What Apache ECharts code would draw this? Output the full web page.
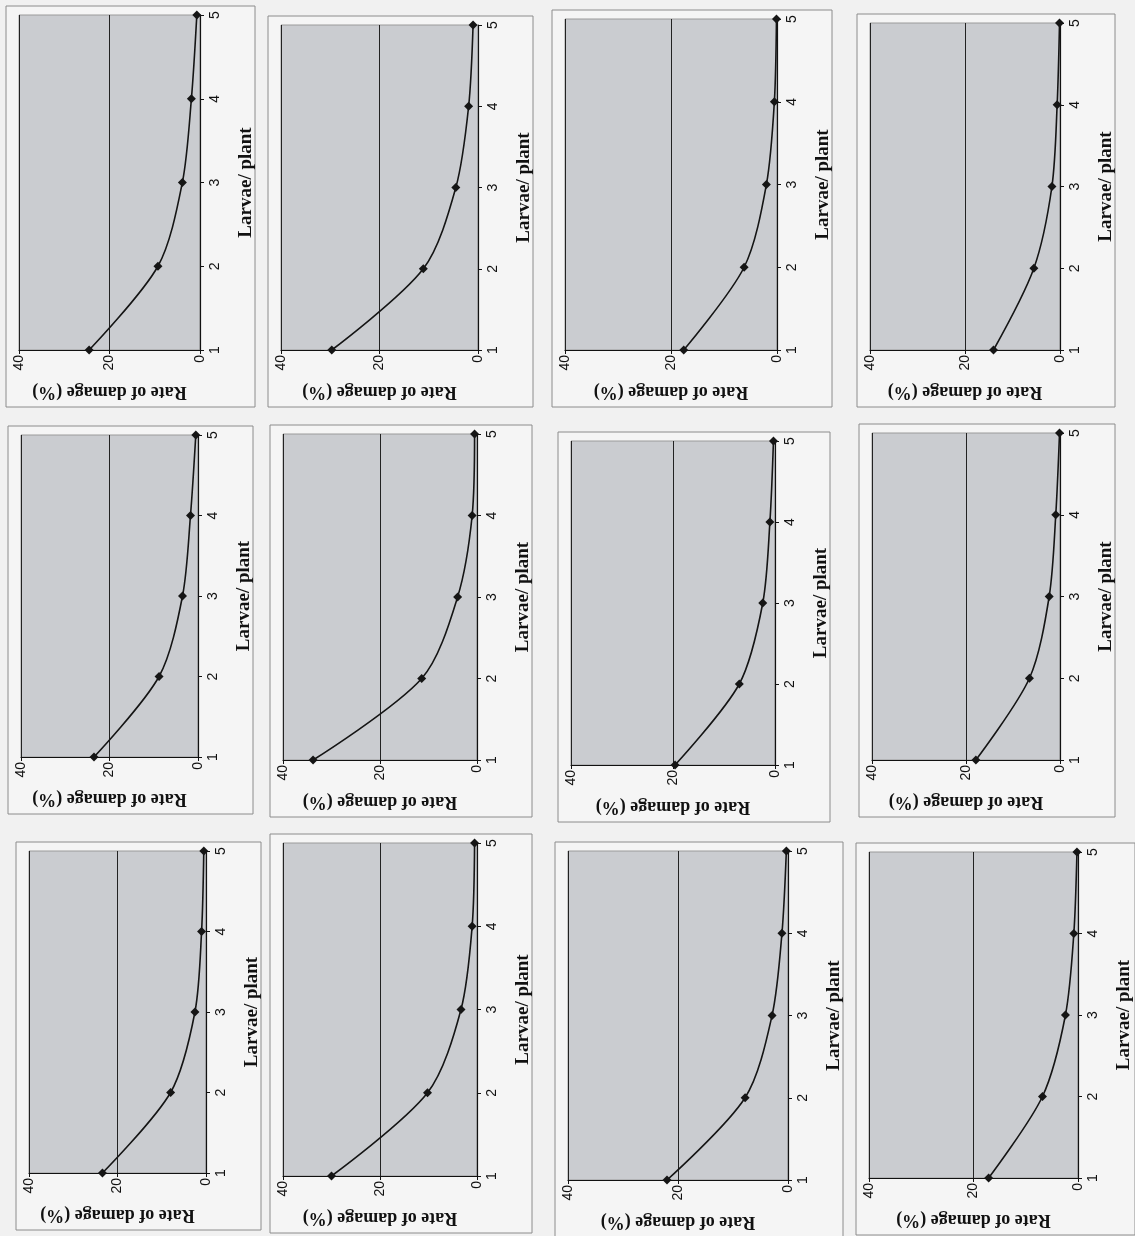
<!DOCTYPE html>
<html><head><meta charset="utf-8">
<script src="https://cdn.jsdelivr.net/npm/echarts@6/dist/echarts.min.js"></script>
<style>html,body{margin:0;padding:0;background:#f1f1f1}#c{width:1135px;height:1236px}</style>
</head><body><div id="c"></div><script>
// Larvae per plant (x of the original chart, shown vertically after the page rotation)
const larvaePerPlant = [1, 2, 3, 4, 5];
// Rate of damage (%) for each panel, row/column as seen on the rotated page
const damageR1C1 = [24.5, 9.3, 3.9, 1.9, 0.7];
const damageR1C2 = [29.7, 11.1, 4.5, 1.9, 1.0];
const damageR1C3 = [17.6, 6.2, 2.0, 0.5, 0.1];
const damageR1C4 = [14.0, 5.5, 1.7, 0.6, 0.1];
const damageR2C1 = [23.5, 8.8, 3.5, 1.7, 0.5];
const damageR2C2 = [33.8, 11.4, 4.0, 1.0, 0.5];
const damageR2C3 = [19.6, 7.0, 2.4, 1.0, 0.3];
const damageR2C4 = [17.9, 6.5, 2.3, 0.9, 0.1];
const damageR3C1 = [23.4, 8.0, 2.5, 1.0, 0.5];
const damageR3C2 = [30.0, 10.2, 3.3, 1.0, 0.5];
const damageR3C3 = [22.0, 7.8, 2.9, 1.1, 0.3];
const damageR3C4 = [17.1, 6.8, 2.4, 0.8, 0.2];
const damageAxisTicks = [0, 20, 40];
const larvaeAxisTicks = [1, 2, 3, 4, 5];
const damageTitle = 'Rate of damage (%)';
const larvaeTitle = 'Larvae/ plant';

const panels = [damageR1C1, damageR1C2, damageR1C3, damageR1C4,
                damageR2C1, damageR2C2, damageR2C3, damageR2C4,
                damageR3C1, damageR3C2, damageR3C3, damageR3C4];

// plot rectangles [left(40%), right(0%), top(5 larvae), bottom(1 larva)]
const layout = [
  [19, 200, 15, 350], [281, 478, 25, 350], [565, 777, 19, 350], [870, 1060, 23, 350],
  [21, 198, 435, 757], [283, 477, 434, 760], [571, 775, 441, 765], [872, 1060, 433, 760],
  [29, 206, 851, 1173], [283, 477, 843, 1176], [568, 788, 851, 1180], [869, 1080, 852, 1178]
];

const grids = [], xAxes = [], yAxes = [], series = [], graphics = [];
panels.forEach((vals, i) => {
  const [L, R, T, B] = layout[i];
  graphics.push({
    type: 'rect', z: -1, silent: true,
    shape: { x: L - 13, y: T - 9, width: (R - L) + 68, height: (B - T) + 66 },
    style: { fill: '#f5f5f5', stroke: '#8c8c8c', lineWidth: 1 }
  });
  grids.push({
    left: L, top: T, width: R - L, height: B - T, show: true,
    backgroundColor: '#caccd0', borderColor: '#9a9a9a', borderWidth: 1
  });
  xAxes.push({
    gridIndex: i, type: 'value', min: damageAxisTicks[0], max: damageAxisTicks[damageAxisTicks.length - 1],
    interval: damageAxisTicks[1] - damageAxisTicks[0], inverse: true, position: 'bottom',
    axisLine: { show: true, lineStyle: { color: '#111', width: 1.2 } },
    axisTick: { show: true, length: 4, lineStyle: { color: '#111' } },
    axisLabel: { rotate: 90, fontSize: 14, color: '#111', fontFamily: 'Liberation Sans', margin: 5 },
    splitLine: { show: true, lineStyle: { color: '#222', width: 1 } },
    name: damageTitle, nameLocation: 'middle', nameGap: 33, nameRotate: 180,
    nameTextStyle: { fontFamily: 'Liberation Serif', fontWeight: 'bold', fontSize: 18, color: '#111' }
  });
  yAxes.push({
    gridIndex: i, type: 'value', min: larvaeAxisTicks[0], max: larvaeAxisTicks[larvaeAxisTicks.length - 1],
    interval: 1, position: 'right',
    axisLine: { show: true, lineStyle: { color: '#111', width: 1.2 } },
    axisTick: { show: true, length: 4, lineStyle: { color: '#111' } },
    axisLabel: { rotate: 90, fontSize: 14, color: '#111', fontFamily: 'Liberation Sans', margin: 8 },
    splitLine: { show: false },
    name: larvaeTitle, nameLocation: 'middle', nameGap: 37, nameRotate: 90,
    nameTextStyle: { fontFamily: 'Liberation Serif', fontWeight: 'bold', fontSize: 19, color: '#111' }
  });
  series.push({
    type: 'line', xAxisIndex: i, yAxisIndex: i,
    data: larvaePerPlant.map((l, k) => [vals[k], l]),
    smooth: 0.3,
    symbol: 'diamond', symbolSize: 9,
    lineStyle: { color: '#151515', width: 1.6 },
    itemStyle: { color: '#151515' },
    animation: false
  });
});

const chart = echarts.init(document.getElementById('c'), null, { renderer: 'canvas' });
chart.setOption({
  backgroundColor: '#f1f1f1',
  animation: false,
  graphic: graphics,
  grid: grids, xAxis: xAxes, yAxis: yAxes, series: series
});
</script></body></html>
